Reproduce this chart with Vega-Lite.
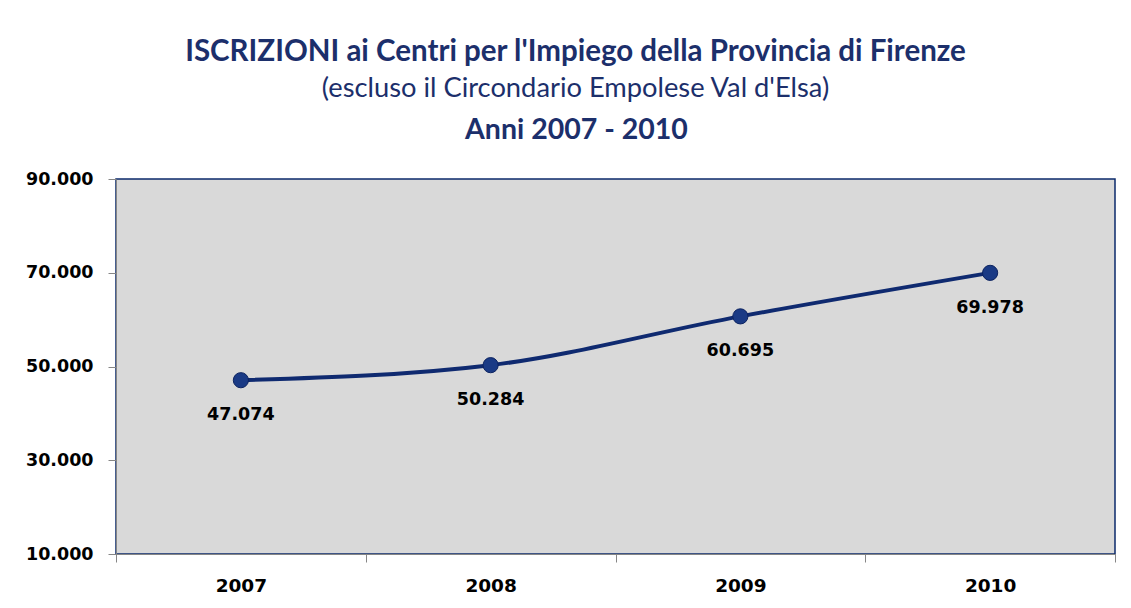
{
  "$schema": "https://vega.github.io/schema/vega-lite/v6.json",
  "background": "white",
  "padding": {"left": 24, "top": 36, "right": 0, "bottom": 0},
  "config": {
    "locale": {"number": {"decimal": ",", "thousands": ".", "grouping": [3], "currency": ["€", ""]}},
    "view": {"fill": "#d9d9d9", "stroke": "#0b2a6b", "strokeWidth": 1.5},
    "axis": {"grid": false, "domainColor": "#868686", "tickColor": "#868686", "domainWidth": 1, "tickWidth": 1, "tickSize": 8,
             "labelFont": "DejaVu Sans", "labelFontWeight": "bold", "labelFontSize": 17.5, "labelColor": "#000000", "title": null}
  },
  "title": {
    "text": "ISCRIZIONI ai Centri per l'Impiego della Provincia di Firenze",
    "subtitle": "(escluso il Circondario Empolese Val d'Elsa)",
    "font": "Lato", "fontSize": 29.5, "fontWeight": "bold", "color": "#1c2f6b",
    "subtitleFont": "Lato", "subtitleFontSize": 27.3, "subtitleColor": "#1c2f6b", "subtitlePadding": 8,
    "anchor": "middle", "offset": 11, "dx": 5
  },
  "vconcat": [
    {
      "width": 999,
      "height": 375,
      "title": {"text": "Anni 2007 - 2010", "font": "Lato", "fontSize": 28.5, "fontWeight": "bold", "color": "#1c2f6b", "anchor": "middle", "offset": 26, "dx": -39},
      "data": {"values": [
        {"anno": "2007", "iscrizioni": 47074},
        {"anno": "2008", "iscrizioni": 50284},
        {"anno": "2009", "iscrizioni": 60695},
        {"anno": "2010", "iscrizioni": 69978}
      ]},
      "encoding": {
        "x": {"field": "anno", "type": "ordinal", "bandPosition": 0.5,
              "scale": {"type": "band", "paddingInner": 0, "paddingOuter": 0},
              "axis": {"labelAngle": 0, "tickBand": "extent", "labelPadding": 23, "labelBaseline": "middle", "labelFontSize": 18.5}},
        "y": {"field": "iscrizioni", "type": "quantitative",
              "scale": {"domain": [10000, 90000], "nice": false, "zero": false},
              "axis": {"values": [10000, 30000, 50000, 70000, 90000], "labelExpr": "format(datum.value, ',')", "labelPadding": 15}}
      },
      "layer": [
        {"mark": {"type": "line", "color": "#0f2a70", "strokeWidth": 4, "interpolate": "monotone"}},
        {"mark": {"type": "point", "filled": true, "shape": "circle", "size": 230, "color": "#1a3a85", "opacity": 1, "stroke": "#0c2360", "strokeWidth": 1}},
        {"mark": {"type": "text", "dy": 35, "font": "DejaVu Sans", "fontWeight": "bold", "fontSize": 17.5, "color": "#000000"},
         "encoding": {"text": {"field": "iscrizioni", "type": "quantitative", "format": ","}}}
      ]
    }
  ]
}
